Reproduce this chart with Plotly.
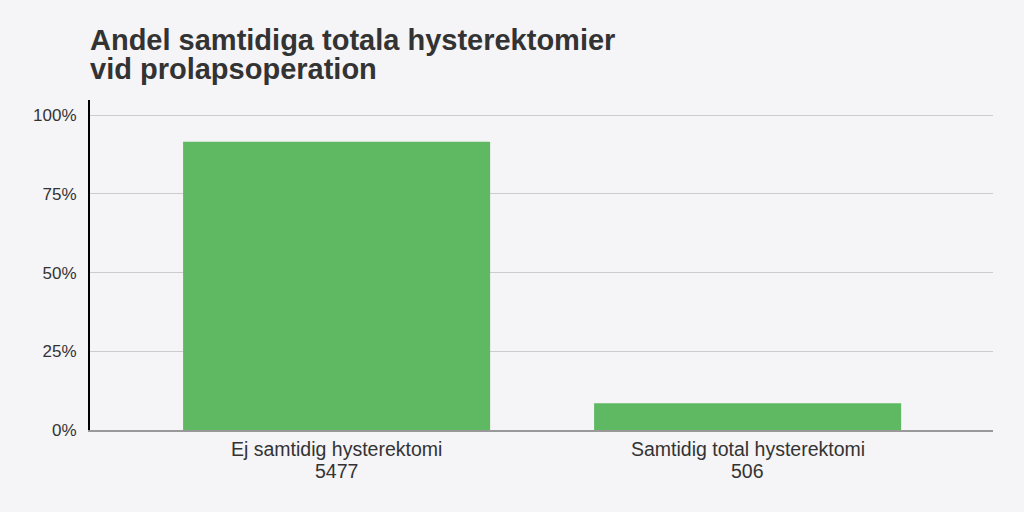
import plotly.graph_objects as go

title_lines = ["Andel samtidiga totala hysterektomier", "vid prolapsoperation"]
categories = ["Ej samtidig hysterektomi", "Samtidig total hysterektomi"]
counts = [5477, 506]
total = sum(counts)
shares = [n / total for n in counts]
positions = list(range(len(categories)))

FONT = "Liberation Sans, Arial, sans-serif"

fig = go.Figure()
fig.add_trace(go.Bar(
    x=positions, y=shares,
    marker=dict(color="#5fb962", line=dict(width=0)),
    width=0.747,
    hoverinfo="skip",
))

annotations = []
# title, two lines with tight line spacing
for i, line in enumerate(title_lines):
    annotations.append(dict(
        text=f"<b>{line}</b>", xref="paper", yref="paper",
        x=0, xanchor="left", xshift=-1,
        y=1, yanchor="middle", yshift=100 - 40 - i * 29,
        showarrow=False, borderpad=0,
        font=dict(size=29, color="#333333", family=FONT),
    ))
# category labels with counts underneath
for p, c, n in zip(positions, categories, counts):
    annotations.append(dict(
        text=c, xref="x", yref="paper", x=p, y=0, yanchor="middle", yshift=-19,
        showarrow=False, borderpad=0,
        font=dict(size=19.5, color="#333333", family=FONT),
    ))
    annotations.append(dict(
        text=str(n), xref="x", yref="paper", x=p, y=0, yanchor="middle", yshift=-41,
        showarrow=False, borderpad=0,
        font=dict(size=19.5, color="#333333", family=FONT),
    ))

fig.update_layout(
    width=1024, height=512,
    paper_bgcolor="#f5f4f6", plot_bgcolor="#f5f4f6",
    margin=dict(l=90, r=31, t=100, b=82),
    font=dict(family=FONT, color="#333333", size=16),
    showlegend=False,
    annotations=annotations,
)
fig.update_yaxes(
    range=[0, 1.048], tickvals=[0, 0.25, 0.5, 0.75, 1.0],
    ticktext=["0%", "25%", "50%", "75%", "100%"],
    tickfont=dict(size=17),
    showgrid=True, gridcolor="#cccccc", gridwidth=1,
    showline=True, linecolor="#000000", linewidth=2,
    ticks="", zeroline=False, ticklabelstandoff=8,
)
fig.update_xaxes(
    range=[-0.6, 1.597], tickvals=positions, showticklabels=False,
    showline=True, linecolor="#999999", linewidth=2,
    ticks="", showgrid=False, zeroline=False,
)
fig.write_html("out.html")
